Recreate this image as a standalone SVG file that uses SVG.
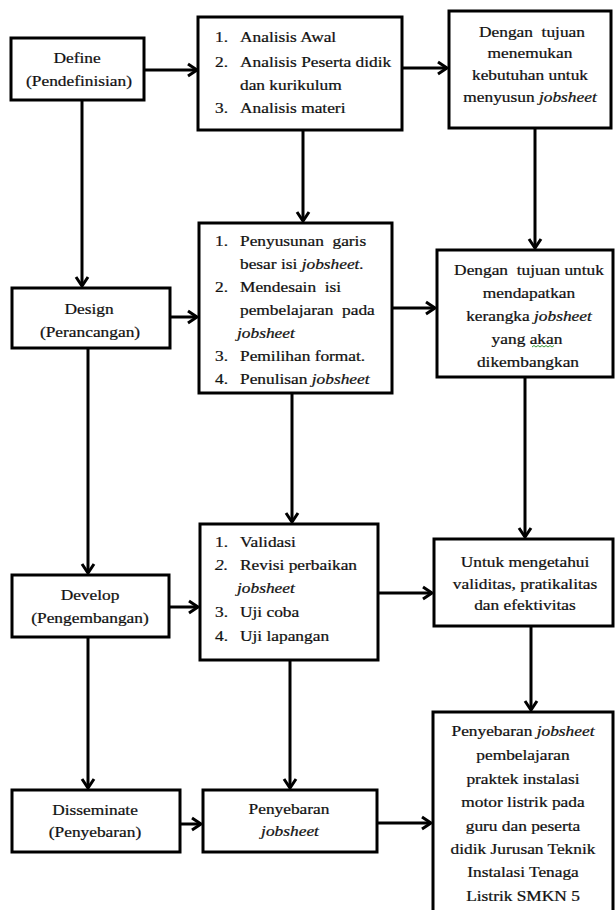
<svg xmlns="http://www.w3.org/2000/svg" width="616" height="910" viewBox="0 0 616 910">
<style>
.box{fill:#fff;stroke:#000;stroke-width:3}
.ln{fill:none;stroke:#000;stroke-width:3}
text{font-family:"Liberation Serif","Times New Roman",serif;font-size:15.5px;fill:#111;stroke:#111;stroke-width:0.25}
.c{text-anchor:middle}
.i{font-style:italic}
</style>
<defs>
<marker id="ah" markerUnits="userSpaceOnUse" markerWidth="14" markerHeight="16" refX="11" refY="8" orient="auto">
<path d="M2,2 L11,8 L2,14" fill="none" stroke="#000" stroke-width="3"/>
</marker>
</defs>
<g id="connectors">
<path class="ln" d="M144,70 H197" marker-end="url(#ah)"/>
<path class="ln" d="M402,68 H447" marker-end="url(#ah)"/>
<path class="ln" d="M82,100 V286" marker-end="url(#ah)"/>
<path class="ln" d="M303,130 V221" marker-end="url(#ah)"/>
<path class="ln" d="M535,128 V248" marker-end="url(#ah)"/>
<path class="ln" d="M170,317 H197" marker-end="url(#ah)"/>
<path class="ln" d="M392,308 H435" marker-end="url(#ah)"/>
<path class="ln" d="M88,348 V573" marker-end="url(#ah)"/>
<path class="ln" d="M292,393 V522" marker-end="url(#ah)"/>
<path class="ln" d="M525,377 V537" marker-end="url(#ah)"/>
<path class="ln" d="M169,607 H198" marker-end="url(#ah)"/>
<path class="ln" d="M378,593 H432" marker-end="url(#ah)"/>
<path class="ln" d="M88,637 V788" marker-end="url(#ah)"/>
<path class="ln" d="M290,660 V788" marker-end="url(#ah)"/>
<path class="ln" d="M531,626 V710" marker-end="url(#ah)"/>
<path class="ln" d="M180,824 H201" marker-end="url(#ah)"/>
<path class="ln" d="M377,823 H431" marker-end="url(#ah)"/>
</g>
<g id="define">
<rect class="box" x="11" y="38" width="133" height="62"/>
<text class="c" transform="translate(77,63) scale(1.12,1)">Define</text>
<text class="c" transform="translate(79,86) scale(1.12,1)">(Pendefinisian)</text>
</g>
<g id="analisis">
<rect class="box" x="198" y="17" width="204" height="113"/>
<text transform="translate(215,42) scale(1.12,1)">1.</text>
<text transform="translate(240,42) scale(1.12,1)">Analisis Awal</text>
<text transform="translate(215,67) scale(1.12,1)">2.</text>
<text transform="translate(240,67) scale(1.12,1)">Analisis Peserta didik</text>
<text transform="translate(240,90) scale(1.12,1)">dan kurikulum</text>
<text transform="translate(215,113) scale(1.12,1)">3.</text>
<text transform="translate(240,113) scale(1.12,1)">Analisis materi</text>
</g>
<g id="tujuan1">
<rect class="box" x="449" y="11" width="162" height="117"/>
<text class="c" xml:space="preserve" transform="translate(532,37) scale(1.12,1)">Dengan  tujuan</text>
<text class="c" transform="translate(530,58) scale(1.12,1)">menemukan</text>
<text class="c" transform="translate(530,80) scale(1.12,1)">kebutuhan untuk</text>
<text class="c" transform="translate(530,102) scale(1.12,1)">menyusun <tspan class="i">jobsheet</tspan></text>
</g>
<g id="design">
<rect class="box" x="12" y="288" width="158" height="60"/>
<text class="c" transform="translate(89,314) scale(1.12,1)">Design</text>
<text class="c" transform="translate(90,337) scale(1.12,1)">(Perancangan)</text>
</g>
<g id="penyusunan">
<rect class="box" x="199" y="223" width="193" height="170"/>
<text transform="translate(215,246) scale(1.12,1)">1.</text>
<text xml:space="preserve" transform="translate(240,246) scale(1.12,1)">Penyusunan  garis</text>
<text transform="translate(240,269) scale(1.12,1)">besar isi <tspan class="i">jobsheet.</tspan></text>
<text transform="translate(215,292) scale(1.12,1)">2.</text>
<text xml:space="preserve" transform="translate(240,292) scale(1.12,1)">Mendesain  isi</text>
<text xml:space="preserve" transform="translate(240,315) scale(1.12,1)">pembelajaran  pada</text>
<text class="i" transform="translate(237,338) scale(1.12,1)">jobsheet</text>
<text transform="translate(215,361) scale(1.12,1)">3.</text>
<text transform="translate(240,361) scale(1.12,1)">Pemilihan format.</text>
<text transform="translate(215,384) scale(1.12,1)">4.</text>
<text transform="translate(240,384) scale(1.12,1)">Penulisan <tspan class="i">jobsheet</tspan></text>
</g>
<g id="tujuan2">
<rect class="box" x="437" y="250" width="176" height="127"/>
<text class="c" xml:space="preserve" transform="translate(529,275) scale(1.12,1)">Dengan  tujuan untuk</text>
<text class="c" transform="translate(529,298) scale(1.12,1)">mendapatkan</text>
<text class="c" transform="translate(529,321) scale(1.12,1)">kerangka <tspan class="i">jobsheet</tspan></text>
<text class="c" transform="translate(527,344) scale(1.12,1)">yang akan</text>
<path d="M532,347 l2,-1.5 l2,1.5 l2,-1.5 l2,1.5 l2,-1.5 l2,1.5 l2,-1.5 l2,1.5 l2,-1.5 l2,1.5 l2,-1.5" fill="none" stroke="#3a9a3a" stroke-width="1"/>
<text class="c" transform="translate(528,367) scale(1.12,1)">dikembangkan</text>
</g>
<g id="develop">
<rect class="box" x="12" y="575" width="157" height="62"/>
<text class="c" transform="translate(90,600) scale(1.12,1)">Develop</text>
<text class="c" transform="translate(90,623) scale(1.12,1)">(Pengembangan)</text>
</g>
<g id="validasi">
<rect class="box" x="200" y="524" width="178" height="136"/>
<text transform="translate(215,547) scale(1.12,1)">1.</text>
<text transform="translate(240,547) scale(1.12,1)">Validasi</text>
<text class="i" transform="translate(215,570) scale(1.12,1)">2.</text>
<text transform="translate(240,570) scale(1.12,1)">Revisi perbaikan</text>
<text class="i" transform="translate(237,593) scale(1.12,1)">jobsheet</text>
<text transform="translate(215,617) scale(1.12,1)">3.</text>
<text transform="translate(240,617) scale(1.12,1)">Uji coba</text>
<text transform="translate(215,641) scale(1.12,1)">4.</text>
<text transform="translate(240,641) scale(1.12,1)">Uji lapangan</text>
</g>
<g id="mengetahui">
<rect class="box" x="434" y="539" width="179" height="87"/>
<text class="c" transform="translate(525,567) scale(1.12,1)">Untuk mengetahui</text>
<text class="c" transform="translate(525,589) scale(1.12,1)">validitas, pratikalitas</text>
<text class="c" transform="translate(525,610) scale(1.12,1)">dan efektivitas</text>
</g>
<g id="disseminate">
<rect class="box" x="12" y="790" width="168" height="62"/>
<text class="c" transform="translate(95,815) scale(1.12,1)">Disseminate</text>
<text class="c" transform="translate(95,837) scale(1.12,1)">(Penyebaran)</text>
</g>
<g id="penyebaran">
<rect class="box" x="203" y="790" width="174" height="62"/>
<text class="c" transform="translate(289,814) scale(1.12,1)">Penyebaran</text>
<text class="c i" transform="translate(290,836) scale(1.12,1)">jobsheet</text>
</g>
<g id="penyebaran2">
<rect class="box" x="433" y="712" width="180" height="210"/>
<text class="c" transform="translate(523,736) scale(1.12,1)">Penyebaran <tspan class="i">jobsheet</tspan></text>
<text class="c" transform="translate(523,760) scale(1.12,1)">pembelajaran</text>
<text class="c" transform="translate(523,784) scale(1.12,1)">praktek instalasi</text>
<text class="c" transform="translate(523,807) scale(1.12,1)">motor listrik pada</text>
<text class="c" transform="translate(523,831) scale(1.12,1)">guru dan peserta</text>
<text class="c" transform="translate(523,854) scale(1.12,1)">didik Jurusan Teknik</text>
<text class="c" transform="translate(523,877) scale(1.12,1)">Instalasi Tenaga</text>
<text class="c" transform="translate(523,901) scale(1.12,1)">Listrik SMKN 5</text>
</g>
</svg>
